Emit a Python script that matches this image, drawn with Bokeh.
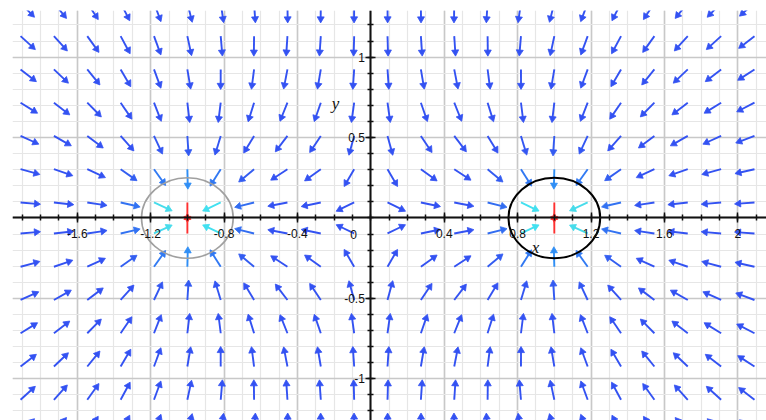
import numpy as np
from bokeh.plotting import figure
from bokeh.models import (LinearAxis, FixedTicker, Grid, SingleIntervalTicker,
                          PrintfTickFormatter, ColumnDataSource)
from bokeh.core.properties import value
from bokeh.embed import file_html
from bokeh.resources import INLINE

# ---- data -------------------------------------------------------------
charge_x = [-1.0, 1.0]          # point sinks of the field
charge_y = [0.0, 0.0]
charge_q = [1.0, 1.0]
loop_x = [-1.0, 1.0]            # circles drawn round the sinks
loop_y = [0.0, 0.0]
loop_r = [0.25, 0.25]
loop_color = ["#a0a0a0", "#000000"]
loop_width = [1.6, 2.0]

x_ticks = [-1.6, -1.2, -0.8, -0.4, 0.4, 0.8, 1.2, 1.6, 2.0]
y_ticks = [-1.0, -0.5, 0.5, 1.0]

# sampling lattice of the vector field
col_origin, col_step = -1.0, 2.0 / 11.0
row_origin, row_step = 0.0964, 0.2068

X_RANGE = (-1.953, 2.1564)
Y_RANGE = (-1.2593, 1.290)
W, H = 766, 420
BL, BT = 12, 10

p = figure(width=W, height=H, x_range=X_RANGE, y_range=Y_RANGE,
           output_backend="svg", toolbar_location=None,
           x_axis_type=None, y_axis_type=None,
           min_border_left=BL, min_border_right=0,
           min_border_top=BT, min_border_bottom=0)
p.outline_line_color = None
p.background_fill_color = "white"

sx = (W - BL) / (X_RANGE[1] - X_RANGE[0])   # px per unit
sy = (H - BT) / (Y_RANGE[1] - Y_RANGE[0])

# ---- grid -------------------------------------------------------------
gx = Grid(dimension=0, ticker=SingleIntervalTicker(interval=0.4, num_minor_ticks=4),
          grid_line_color="#c8c8c8", grid_line_width=1.6,
          minor_grid_line_color="#e6e6e6", minor_grid_line_width=1.2)
gy = Grid(dimension=1, ticker=SingleIntervalTicker(interval=0.5, num_minor_ticks=5),
          grid_line_color="#c8c8c8", grid_line_width=1.6,
          minor_grid_line_color="#e6e6e6", minor_grid_line_width=1.2)
p.add_layout(gx)
p.add_layout(gy)

# ---- vector field -----------------------------------------------------
cols = col_origin + col_step * np.arange(-5, 18)
rows_pos = row_origin + row_step * np.arange(0, 7)
rows = np.concatenate([-rows_pos[::-1], rows_pos])
XX, YY = np.meshgrid(cols, rows)
XX = XX.ravel(); YY = YY.ravel()

VX = np.zeros_like(XX); VY = np.zeros_like(YY)
for cx, cy, q in zip(charge_x, charge_y, charge_q):
    dx = cx - XX; dy = cy - YY
    r3 = (dx * dx + dy * dy) ** 1.5
    VX += q * dx / r3
    VY += q * dy / r3
MAG = np.hypot(VX, VY)

ux = VX * sx; uy = VY * sy
n = np.hypot(ux, uy)
ux /= n; uy /= n

L = 20.0     # arrow length, px
HS = 7.0     # head size, px
back = 0.577 * HS
hx = XX + ux * (L - back) / sx
hy = YY + uy * (L - back) / sy
ang = np.arctan2(uy, ux) - np.pi / 2

stops = [(np.log10(3), (0x33, 0x52, 0xf2)), (np.log10(6), (0x33, 0x66, 0xf0)),
         (np.log10(11), (0x2f, 0x8e, 0xf5)), (np.log10(22), (0x33, 0xee, 0xff)),
         (np.log10(50), (0xff, 0x30, 0x30))]

def colour(m):
    t = np.log10(m)
    if t <= stops[0][0]:
        c = stops[0][1]
    elif t >= stops[-1][0]:
        c = stops[-1][1]
    else:
        for (t0, c0), (t1, c1) in zip(stops[:-1], stops[1:]):
            if t0 <= t <= t1:
                f = (t - t0) / (t1 - t0)
                c = tuple(int(round(a + (b - a) * f)) for a, b in zip(c0, c1))
                break
    return "#%02x%02x%02x" % c

cols_c = [colour(m) for m in MAG]
src = ColumnDataSource(dict(x0=XX, y0=YY, x1=hx, y1=hy, ang=ang, c=cols_c))
p.segment(x0="x0", y0="y0", x1="x1", y1="y1", line_color="c", line_width=1.9, source=src)
p.scatter(x="x1", y="y1", marker="triangle", size=HS, angle="ang",
          fill_color="c", line_color="c", line_width=0.8, source=src)

# ---- circles round the sinks -----------------------------------------
for x, y, r, c, w in zip(loop_x, loop_y, loop_r, loop_color, loop_width):
    p.ellipse(x=x, y=y, width=2 * r, height=2 * r, fill_color=None,
              line_color=c, line_width=w)

# ---- axes through the origin -----------------------------------------
xminor = [round(k / 10, 1) for k in range(-20, 23)]
yminor = [round(k / 10, 1) for k in range(-13, 14)]
xa = LinearAxis(fixed_location=0,
                ticker=FixedTicker(ticks=x_ticks, minor_ticks=xminor),
                formatter=PrintfTickFormatter(format="%g"))
ya = LinearAxis(fixed_location=0,
                ticker=FixedTicker(ticks=y_ticks, minor_ticks=yminor),
                formatter=PrintfTickFormatter(format="%g"))
for a in (xa, ya):
    a.axis_line_color = "#111111"
    a.axis_line_width = 2
    a.major_tick_line_color = "#111111"
    a.major_tick_line_width = 1.5
    a.minor_tick_line_color = "#111111"
    a.minor_tick_line_width = 1.5
    a.major_tick_in = 5
    a.major_tick_out = 5
    a.minor_tick_in = 3
    a.minor_tick_out = 3
    a.major_label_text_font = "Liberation Sans"
    a.major_label_text_font_size = "12px"
    a.major_label_text_color = "#111111"
xa.major_label_standoff = 6
ya.major_label_standoff = 1
p.add_layout(xa, "below")
p.add_layout(ya, "left")

# origin label and axis names
p.text(x=[-0.094], y=[-0.1026], text=["0"], text_align="center", text_baseline="middle",
       text_font=value("Liberation Sans"), text_font_size="12px", text_color="#111111")
p.text(x=[-0.192], y=[0.712], text=["y"], text_align="center", text_baseline="middle",
       text_font=value("Liberation Serif"), text_font_style="italic",
       text_font_size="17px", text_color="#111111")
p.text(x=[0.8976], y=[-0.183], text=["x"], text_align="center", text_baseline="middle",
       text_font=value("Liberation Serif"), text_font_style="italic",
       text_font_size="17px", text_color="#111111")

open("out.html", "w").write(file_html(p, INLINE))
